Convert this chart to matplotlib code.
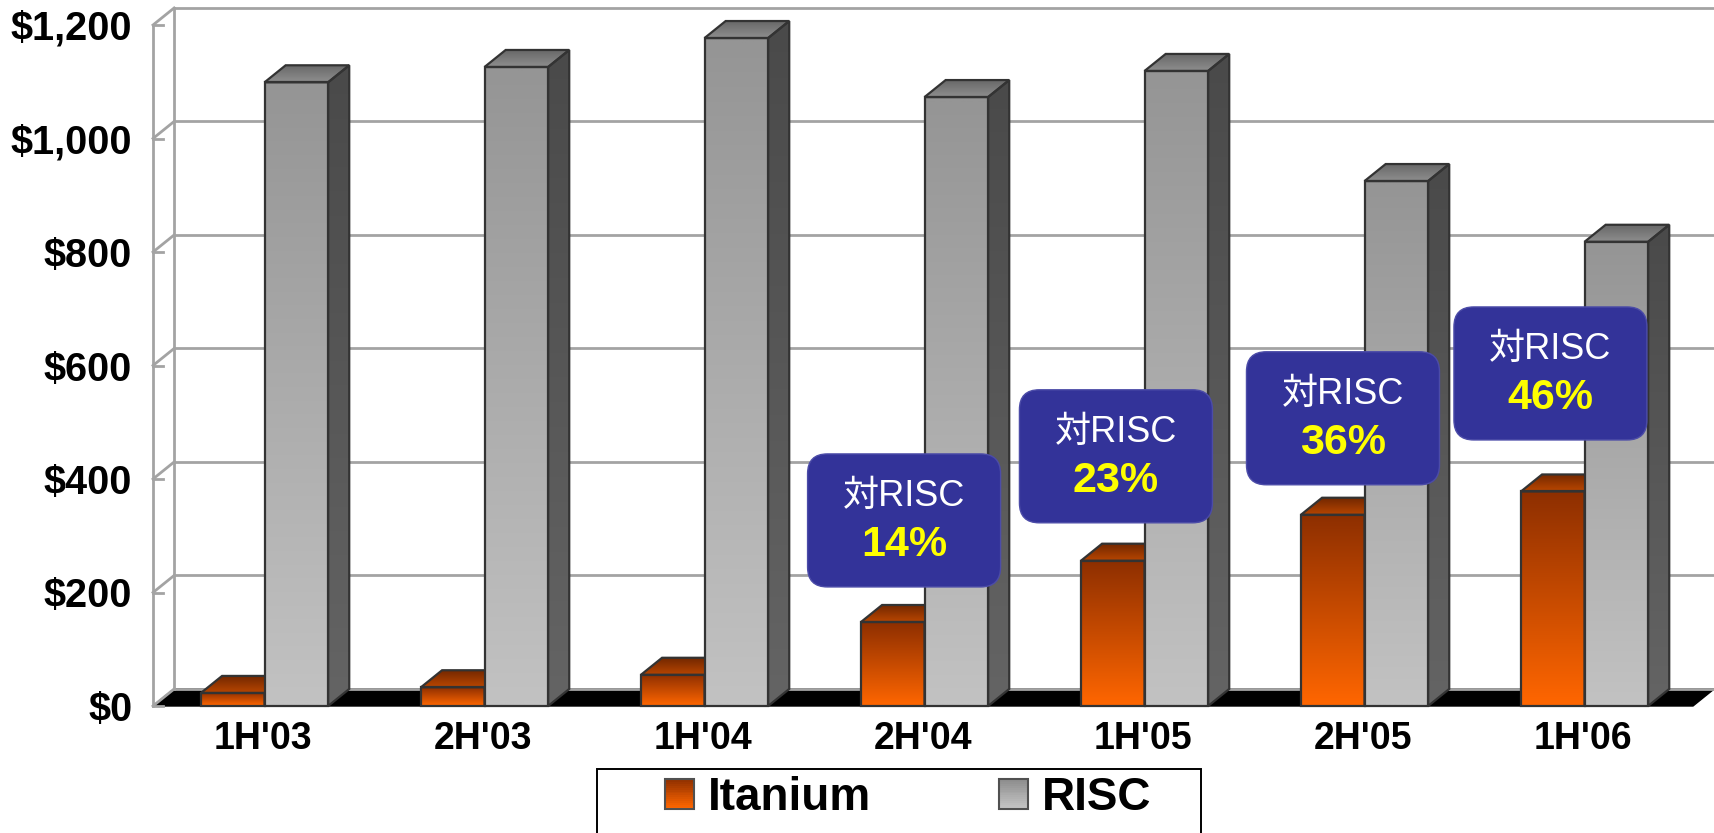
import numpy as np
import matplotlib
matplotlib.use('Agg')
import matplotlib.pyplot as plt
from matplotlib.patches import Polygon, FancyBboxPatch, Rectangle, Patch
from matplotlib.legend_handler import HandlerBase
from matplotlib.colors import to_rgb

# data
periods = ["1H'03", "2H'03", "1H'04", "2H'04", "1H'05", "2H'05", "1H'06"]
itanium = [23, 33, 55, 148, 256, 337, 378]
risc = [1099, 1126, 1177, 1073, 1119, 925, 818]
share_pos = [3, 4, 5, 6]
share_text = ['14%', '23%', '36%', '46%']
y_ticks = [0, 200, 400, 600, 800, 1000, 1200]
y_tick_labels = ['$0', '$200', '$400', '$600', '$800', '$1,000', '$1,200']

# callout box centres (category units, value units) - layout only
box_dx = [-0.086, -0.123, -0.091, -0.148]
box_cy = [327, 440, 507, 586]

# look
DX, DY = 0.096, 30          # fake depth of the 3D box
BW = 0.289
GRID = '#A3A3A3'
EDGE = '#333333'
IT_TOP, IT_BOT = '#8E2F00', '#FF6600'
RS_TOP, RS_BOT = '#959595', '#C2C2C2'
SANS = 'Liberation Sans'

fig = plt.figure(figsize=(17.15, 8.33), dpi=100)
ax = fig.add_axes([153 / 1715, 127 / 833, 1540 / 1715, 681 / 833])
ax.set_facecolor('none')


def grad(top, bottom, n=64):
    t = np.linspace(0, 1, n)[:, None]
    c = (1 - t) * np.array(to_rgb(top)) + t * np.array(to_rgb(bottom))
    return c[:, None, :]


def face(pts, top, bottom, z):
    xs = [p[0] for p in pts]
    ys = [p[1] for p in pts]
    poly = Polygon(pts, closed=True, facecolor='none', edgecolor=EDGE,
                   lw=1.6, zorder=z + 0.1, clip_on=False, joinstyle='miter')
    ax.add_patch(poly)
    im = ax.imshow(grad(top, bottom), extent=[min(xs), max(xs), min(ys), max(ys)],
                   origin='upper', aspect='auto', interpolation='bilinear', zorder=z)
    im.set_clip_path(poly)
    im.set_clip_box(fig.bbox)


def bar3d(x0, h, cols, z):
    front_t, front_b, top_back, top_front, side_t, side_b = cols
    face([(x0 + BW, 0), (x0 + BW + DX, DY), (x0 + BW + DX, h + DY), (x0 + BW, h)],
         side_t, side_b, z)
    face([(x0, h), (x0 + BW, h), (x0 + BW + DX, h + DY), (x0 + DX, h + DY)],
         top_back, top_front, z)
    face([(x0, 0), (x0 + BW, 0), (x0 + BW, h), (x0, h)], front_t, front_b, z)


n = len(periods)

# floor
ax.add_patch(Polygon([(0, 0), (n, 0), (n + DX, DY), (DX, DY)], closed=True,
                     facecolor='black', edgecolor='black', lw=1, zorder=1, clip_on=False))

# walls and grid
for v in y_ticks:
    ax.plot([DX, n + DX], [v + DY, v + DY], color=GRID, lw=2, zorder=1.5, clip_on=False)
    ax.plot([0, DX], [v, v + DY], color=GRID, lw=2, zorder=1.5, clip_on=False)
    ax.plot([0, 0.045], [v, v], color=GRID, lw=2, zorder=1.5, clip_on=False)
ax.plot([0, 0], [0, y_ticks[-1]], color=GRID, lw=2, zorder=1.5, clip_on=False)
ax.plot([DX, DX], [DY, y_ticks[-1] + DY], color=GRID, lw=2, zorder=1.5, clip_on=False)

# bars
for i in range(n):
    bar3d(i + 0.218, itanium[i],
          (IT_TOP, IT_BOT, '#702600', '#B84600', '#5A1E00', '#8A3000'), 3 + i)
    bar3d(i + 0.507, risc[i],
          (RS_TOP, RS_BOT, '#666666', '#8E8E8E', '#4A4A4A', '#646464'), 3.5 + i)

# callouts
bw_x = 193 / 220
bh_y = 133 / 0.5675
for k, i in enumerate(share_pos):
    cx = i + 0.5 + box_dx[k]
    cy = box_cy[k]
    box = FancyBboxPatch((cx - bw_x / 2, cy - bh_y / 2), bw_x, bh_y,
                         boxstyle='round,pad=0,rounding_size=0.09',
                         mutation_aspect=387.7, facecolor='#333399',
                         edgecolor='#4C4CA8', lw=1, zorder=20, clip_on=False)
    ax.add_patch(box)
    ax.text(cx, cy + 42, '対RISC', color='white', fontsize=26,
            family=[SANS, 'Noto Sans CJK JP'], ha='center', va='center', zorder=21)
    ax.text(cx, cy - 43, share_text[k], color='#FFFF00', fontsize=31,
            fontweight='bold', family=SANS, ha='center', va='center', zorder=21)

ax.set_xlim(0, n)
ax.set_ylim(0, y_ticks[-1])
ax.set_xticks(np.arange(n) + 0.5)
ax.set_xticklabels(periods, fontsize=27, fontweight='bold', family=SANS)
ax.set_yticks(y_ticks)
ax.set_yticklabels(y_tick_labels, fontsize=28.5, fontweight='bold', family=SANS)
ax.tick_params(axis='x', length=0, pad=11)
ax.tick_params(axis='y', length=0, pad=15)
for s in ax.spines.values():
    s.set_visible(False)


# legend with gradient swatches
class GradHandler(HandlerBase):
    def __init__(self, top, bottom):
        super().__init__()
        self.top, self.bottom = top, bottom

    def create_artists(self, legend, orig_handle, xdescent, ydescent,
                       width, height, fontsize, trans):
        arts = []
        m = 16
        c0, c1 = np.array(to_rgb(self.top)), np.array(to_rgb(self.bottom))
        for k in range(m):
            t = k / (m - 1)
            arts.append(Rectangle((-xdescent, -ydescent + height * (1 - (k + 1) / m)),
                                  width, height / m + 0.3, facecolor=(1 - t) * c0 + t * c1,
                                  edgecolor='none', transform=trans))
        arts.append(Rectangle((-xdescent, -ydescent), width, height, facecolor='none',
                              edgecolor='#505050', lw=1.5, transform=trans))
        return arts


h_it = Patch(facecolor=IT_BOT)
h_rs = Patch(facecolor=RS_BOT)
fig.legend([h_it, h_rs], ['Itanium', 'RISC'], loc='upper left',
           bbox_to_anchor=(665 / 1715, 1 - 776 / 833), bbox_transform=fig.transFigure,
           ncol=2, frameon=False, borderpad=0, borderaxespad=0,
           handlelength=0.63, handleheight=0.63, handletextpad=0.3, columnspacing=2.8,
           prop={'family': SANS, 'weight': 'bold', 'size': 33},
           handler_map={h_it: GradHandler(IT_TOP, IT_BOT), h_rs: GradHandler('#8C8C8C', '#C4C4C4')})
fig.add_artist(Rectangle((597 / 1715, -0.05), 604 / 1715, 0.05 + 1 - 769 / 833,
                         transform=fig.transFigure, facecolor='none', edgecolor='black', lw=1.4))

fig.savefig('out.png', dpi=100, facecolor='white')
